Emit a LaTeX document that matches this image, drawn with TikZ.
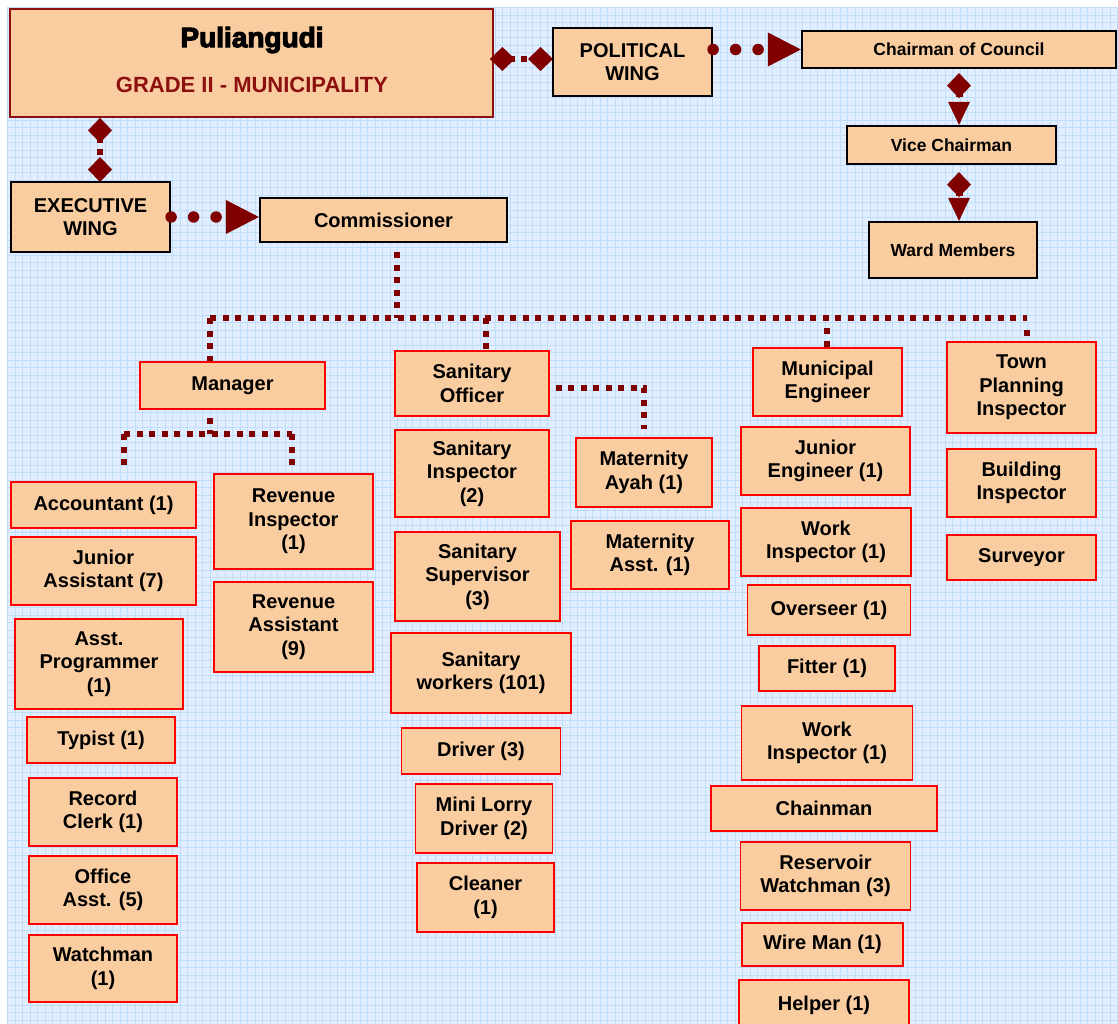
\documentclass[tikz,border=0pt]{standalone}
\usepackage{fontspec}
\setmainfont{Liberation Sans}
\newfontfamily\heavyfont{Liberation Sans Bold}[FakeBold=4]
\usetikzlibrary{arrows.meta}

\definecolor{peach}{RGB}{250,205,160}
\definecolor{linkred}{RGB}{128,0,0}
\definecolor{titlered}{RGB}{140,16,16}
\definecolor{skyblue}{RGB}{224,238,255}
\definecolor{gridblue}{RGB}{192,221,250}

\tikzset{
  dims/.style 2 args={minimum width=#1, minimum height=#2},
  post/.style={draw=red, line width=1.8pt, fill=peach, inner sep=0pt, align=center,
    font=\bfseries\fontsize{20}{23.5}\selectfont},
  wing/.style={post, draw=black, line width=2.2pt},
  boss/.style={wing, font=\bfseries\fontsize{17.5}{21}\selectfont},
  tree/.style={linkred, line width=6pt, dash pattern=on 6pt off 6.5pt},
  diamlink/.style={tree, {Diamond[length=25pt,width=24pt,line width=0pt]}-{Diamond[length=25pt,width=24pt,line width=0pt]}},
  winglink/.style={linkred, line width=11.5pt, line cap=round, dash pattern=on 0pt off 22.5pt,
    -{Triangle[length=33pt,width=34pt,line width=0pt]}},
  postlink/.style={tree, line width=7pt, {Diamond[length=25pt,width=24pt,line width=0pt]}-{Triangle[length=23pt,width=22pt,line width=0pt]}}
}

\begin{document}
\begin{tikzpicture}[x=1pt,y=1pt]
\useasboundingbox (0,-1024) rectangle (1118,0);
% background sheet
\fill[skyblue] (7,-1024) rectangle (1118,-7);
\draw[gridblue, line width=0.6pt, step=7.5] (7,-1024) grid (1118,-7);

% top
\node[fill=peach, draw=titlered, line width=1.8pt, dims={483}{108}] (title) at (251.5,-63) {};
\node[font=\heavyfont\fontsize{28}{32}\selectfont] (ttl-name) at (252,-40) {Puliangudi};
\node[font=\bfseries\fontsize{22}{26}\selectfont, text=titlered] (ttl-grade) at (252,-85) {GRADE II - MUNICIPALITY};
\node[wing, dims={159}{68}] (pol) at (632.5,-62) {POLITICAL\\WING};
\node[boss, dims={314}{37}] (chair) at (959,-49.5) {Chairman of Council};
\node[boss, dims={209}{38}] (vice) at (951.5,-145) {Vice Chairman};
\node[boss, dims={168}{56}] (ward) at (953,-250) {Ward Members};
\node[wing, dims={159}{70}] (exec) at (90.5,-217) {EXECUTIVE\\WING};
\node[wing, dims={247}{44}] (comm) at (383.5,-220) {Commissioner};

% heads
\node[post, dims={185}{47}] (mgr) at (232.5,-385.5) {Manager};
\node[post, dims={154}{65}] (sanoff) at (472,-383.5) {Sanitary\\Officer};
\node[post, dims={149}{68}] (muneng) at (827.5,-382) {Municipal\\Engineer};
\node[post, dims={149}{91}] (tpi) at (1021.5,-387.5) {Town\\Planning\\Inspector};

% manager staff
\node[post, dims={185}{46}] (acct) at (103.5,-505) {Accountant (1)};
\node[post, dims={185}{68}] (jasst) at (103.5,-571) {Junior\\Assistant (7)};
\node[post, dims={168}{90}] (aprog) at (99,-664) {Asst.\\Programmer\\(1)};
\node[post, dims={148}{46}] (typist) at (101,-740) {Typist (1)};
\node[post, dims={148}{68}] (rclerk) at (103,-812) {Record\\Clerk (1)};
\node[post, dims={148}{68}] (oasst) at (103,-890) {Office\\Asst. (5)};
\node[post, dims={148}{67}] (watch) at (103,-968.5) {Watchman\\(1)};
\node[post, dims={159}{95}] (revins) at (293.5,-521.5) {Revenue\\Inspector\\(1)};
\node[post, dims={159}{90}] (revasst) at (293.5,-627) {Revenue\\Assistant\\(9)};

% sanitary staff
\node[post, dims={154}{87}] (sanins) at (472,-473.5) {Sanitary\\Inspector\\(2)};
\node[post, dims={165}{89}] (sansup) at (477.5,-576.5) {Sanitary\\Supervisor\\(3)};
\node[post, dims={180}{80}] (sanwork) at (481,-673) {Sanitary\\workers (101)};
\node[post, dims={159}{46}] (driver) at (481,-751) {Driver (3)};
\node[post, dims={137}{69}] (lorry) at (484,-818.5) {Mini Lorry\\Driver (2)};
\node[post, dims={137}{69}] (cleaner) at (485.5,-897.5) {Cleaner\\(1)};
\node[post, dims={136}{69}] (matayah) at (644,-472.5) {Maternity\\Ayah (1)};
\node[post, dims={158}{68}] (matasst) at (650,-555) {Maternity\\Asst. (1)};

% engineering staff
\node[post, dims={169}{68}] (juneng) at (825.5,-461) {Junior\\Engineer (1)};
\node[post, dims={170}{68}] (workins1) at (826,-542) {Work\\Inspector (1)};
\node[post, dims={163}{50}] (overseer) at (829,-610) {Overseer (1)};
\node[post, dims={136}{45}] (fitter) at (827,-668.5) {Fitter (1)};
\node[post, dims={171}{74}] (workins2) at (827,-743) {Work\\Inspector (1)};
\node[post, dims={226}{45}] (chainman) at (824,-808.5) {Chainman};
\node[post, dims={170}{68}] (reswatch) at (825.5,-876) {Reservoir\\Watchman (3)};
\node[post, dims={161}{43}] (wireman) at (822.5,-944.5) {Wire Man (1)};
\node[post, dims={170}{50}] (helper) at (824,-1005) {Helper (1)};

% town planning staff
\node[post, dims={149}{68}] (building) at (1021.5,-483) {Building\\Inspector};
\node[post, dims={149}{45}] (survey) at (1021.5,-557.5) {Surveyor};

% junctions
\coordinate (j-pol) at (553,-59);
\coordinate (j-exec) at (100,-182);
\coordinate (j-comm) at (397,-318);
\coordinate (j-mgr) at (210,-318);
\coordinate (j-san) at (486,-318);
\coordinate (j-mun) at (827,-318);
\coordinate (j-tpi) at (1027,-318);
\coordinate (j-mgr2) at (210,-434);
\coordinate (j-acct) at (124,-434);
\coordinate (j-rev) at (292,-434);
\coordinate (j-mat) at (644,-388);

% wings
\draw[diamlink, shorten <=-4pt] (title.east |- j-pol) -- (j-pol);
\draw[diamlink] (title.south -| j-exec) -- (j-exec);
\draw[winglink] (exec.east) -- (exec.east -| comm.west);
\draw[winglink] (pol.east |- chair.west) -- (chair.west);
\draw[postlink, shorten <=4pt] (chair.south) -- (chair.south |- vice.north);
\draw[postlink, shorten <=7pt] (vice.south -| chair.south) -- (ward.north -| chair.south);

% executive tree
\draw[tree, shorten <=9pt] (comm.south -| j-comm) -- (j-comm);
\draw[tree] (j-mgr) -- (j-tpi);
\draw[tree] (j-mgr) -- (mgr.north -| j-mgr);
\draw[tree] (j-san) -- (sanoff.north -| j-san);
\draw[tree, shorten <=10pt] (j-mun) -- (muneng.north -| j-mun);
\draw[tree, shorten <=12pt] (j-tpi) -- (tpi.north -| j-tpi);
\draw[tree, shorten <=8pt] (mgr.south -| j-mgr2) -- (j-mgr2);
\draw[tree] (j-acct) -- (j-rev);
\draw[tree, shorten >=12pt] (j-acct) -- (acct.north -| j-acct);
\draw[tree, shorten >=5pt] (j-rev) -- (revins.north -| j-rev);
\draw[tree, shorten <=6pt, shorten >=8pt] (sanoff.east |- j-mat) -- (j-mat) -- (matayah.north -| j-mat);
\end{tikzpicture}
\end{document}
